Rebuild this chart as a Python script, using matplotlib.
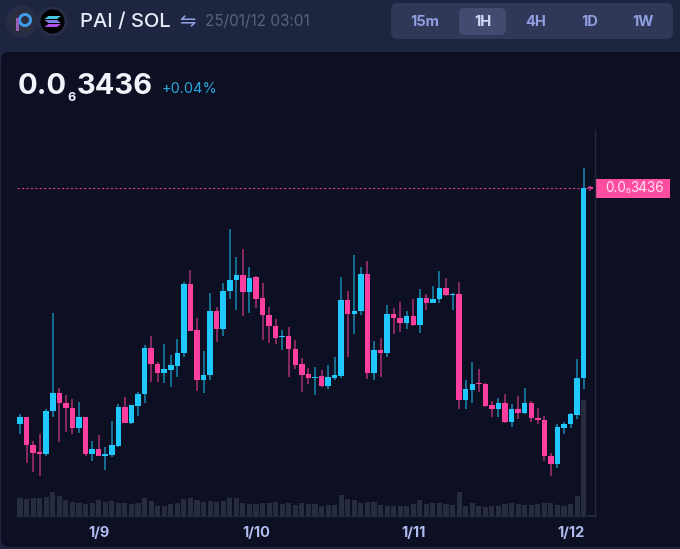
import matplotlib
matplotlib.use("Agg")
import matplotlib.pyplot as plt
from matplotlib.patches import Circle, FancyBboxPatch, Polygon, Rectangle, Wedge
import numpy as np

# candles, in chart units (absolute price scale is not shown)
opens = [125, 132.3, 104.3, 96.7, 95, 137.7, 155.7, 146.3, 141.3, 121, 132.3, 95, 100, 93.3, 94.3, 103, 141.7, 125.7,
         143.3, 154.7, 200.7, 185, 176, 179, 183, 195.7, 264.7, 218.7, 168.7, 173.7, 238.3, 220, 258, 269, 274, 257,
         271.7, 250.7, 234.3, 223.3, 211.7, 213, 200.3, 184.7, 174.7, 170.7, 172.7, 162.7, 171.3, 173, 249, 234.7,
         237.7, 274.7, 176.3, 198.7, 196, 235.3, 231.3, 226.3, 232.7, 224.3, 251.3, 245.7, 250, 260.7, 254, 255, 149,
         159, 165.5, 165.3, 143.7, 140.3, 145.7, 126.7, 140, 135.7, 145.7, 131, 129.3, 93.3, 84.7, 121.3, 124.7, 134.3,
         171, 360.9]
highs = [134.7, 132.3, 108.3, 115, 139.7, 236.3, 160.7, 154, 150, 147, 132.3, 107.7, 114, 101.7, 128.3, 144.7, 152,
         143.7, 156.7, 204, 213, 187.3, 205, 193.7, 209.7, 267, 278.7, 230.7, 198.3, 255.7, 241.7, 265.7, 319.7, 291.7,
         299.7, 282, 273, 265.7, 241.7, 229.7, 219, 222.3, 208.7, 190.7, 180.7, 182, 179, 183.7, 192, 272, 258, 294,
         282.3, 288.3, 208.3, 210.7, 243.7, 240.7, 247, 238.3, 249.7, 259.7, 255, 262.7, 278.3, 270.7, 255.7, 267, 169,
         187, 180, 166.3, 148, 150.7, 155, 144.7, 153.3, 161, 148.3, 141, 132.7, 95.7, 124.7, 127.3, 136.3, 190, 381,
         363]
lows = [115, 85.7, 77.3, 73, 93.3, 132.3, 106.7, 117.3, 115, 116.3, 93.3, 88, 93.3, 79.3, 92.3, 102.3, 126.3, 125,
        133.3, 146, 167, 167, 166, 162, 171.7, 191.7, 217.7, 157.7, 156.3, 169, 207.3, 213, 250.3, 239.3, 233, 236.3,
        241, 209, 206.3, 205, 199, 172.3, 180, 157, 164.7, 154, 162, 159.7, 169, 171, 192.3, 214.7, 234.3, 170.3, 169,
        171.7, 192, 215.3, 217.3, 219.7, 223, 216.3, 239.3, 245.7, 246, 253, 239.3, 140.3, 140.3, 146.3, 156.7, 142,
        131.7, 132.3, 125.7, 122, 130, 135, 127.3, 125, 88.3, 73, 81.3, 114.7, 121.3, 130.3, 160, 358.5]
closes = [132.3, 104, 96.3, 95, 138.3, 155.7, 146, 141, 121, 132, 95, 100, 93.3, 95, 103.7, 141.7, 126.3, 143.7, 155,
          200.7, 184.7, 176, 179.7, 183.7, 196, 264.7, 217.7, 168.7, 174, 238.3, 220.3, 258.3, 269, 274, 257, 271.3,
          250.3, 233.7, 223, 211.3, 212.7, 200, 184, 174, 170.7, 172.3, 162.7, 172, 173.7, 249, 234.7, 238, 274.7,
          176.3, 198.7, 196.3, 235.3, 231, 226.3, 232.7, 224.3, 251.3, 246, 250.3, 260.7, 253.7, 255.3, 149, 159.7,
          165.3, 165, 143, 140.3, 145.7, 126.7, 140, 136, 145.7, 130.7, 129, 93, 85, 121.7, 125, 135, 171.3, 360.7,
          360.7]
volumes = [18, 17, 18, 18, 19, 23.7, 19.7, 16, 14, 13.3, 12, 12.7, 15.7, 13.7, 15, 13.3, 13, 12, 12.7, 18, 14.7, 10,
           9.7, 12, 13.3, 17.3, 17.7, 16, 14, 15, 14.3, 15, 18, 17.7, 12.7, 12.3, 12.3, 13, 13, 14, 12.3, 13, 10.7, 13,
           12, 12.3, 9.7, 10.7, 11.3, 21, 16.7, 16, 13, 14, 14, 11, 10, 9.7, 10, 10, 12, 16, 12.3, 13, 13.3, 12.3, 11,
           24, 10.3, 13.3, 9.7, 9.3, 9.7, 10, 12, 13.3, 12.3, 11.3, 10.7, 12, 13, 13, 11, 10, 12, 20, 116, 1.5]
tick_positions = [12, 36, 60, 84]
tick_labels = ["1/9", "1/10", "1/11", "1/12"]
intervals = ["15m", "1H", "4H", "1D", "1W"]
last_price = closes[-1]

WIDTH, HEIGHT = 680, 549
OUTER = "#1e2540"
PANEL = "#0c1022"
PINK = "#ff3fa0"
BLUE = "#1fc8ff"
GRID = "#23293c"
VOL = "#272d3f"
plt.rcParams["font.family"] = ["Inter", "DejaVu Sans"]

fig = plt.figure(figsize=(WIDTH / 100, HEIGHT / 100), dpi=100, facecolor=OUTER)

# background layer in pixel coordinates
bg = fig.add_axes([0, 0, 1, 1], zorder=0)
bg.set_xlim(0, WIDTH)
bg.set_ylim(HEIGHT, 0)
bg.axis("off")
bg.add_patch(FancyBboxPatch((7, 58), WIDTH, 483, boxstyle="round,pad=6,rounding_size=8", fc=PANEL, ec="none"))

# pair icons
bg.add_patch(Circle((22, 21.5), 16, fc="#272d46", ec="none"))
bg.add_patch(Circle((22, 21.5), 12, fc="#2b2e3e", ec="none"))
bg.add_patch(Wedge((25, 20), 7, 0, 360, width=3, fc="#3f9be8", ec="none"))
bg.add_patch(Rectangle((15.5, 18), 3, 13, fc="#9a5fb8", ec="none"))
bg.add_patch(Circle((52.5, 21.5), 15, fc="#272d46", ec="none"))
bg.add_patch(Circle((52.5, 21.5), 12, fc="#000000", ec="none"))
for top, shade, lean in [(16, "#49c8e8", 2), (20, "#7a7fe8", -2), (24, "#b04fe8", 2)]:
    bg.add_patch(Polygon([(46.5 + lean, top), (59 + lean, top), (59 - lean, top + 3), (46.5 - lean, top + 3)],
                         fc=shade, ec="none"))

# header text
bg.text(80, 22, "PAI / SOL", color="#e8ecf8", fontsize=14.5, fontweight="medium", va="center")
bg.text(187, 22, "⇋", color="#8f9fe0", fontsize=14, va="center", ha="center", family="DejaVu Sans")
bg.text(205, 22, "25/01/12 03:01", color="#5a6280", fontsize=11, va="center")

# interval selector
bg.add_patch(FancyBboxPatch((397, 9), 270, 24, boxstyle="round,pad=6,rounding_size=7", fc="#303858", ec="none"))
bg.add_patch(FancyBboxPatch((464, 13), 37, 17, boxstyle="round,pad=5,rounding_size=6", fc="#434c70", ec="none"))
for name, cx in zip(intervals, [425, 483, 536, 589.5, 643]):
    bg.text(cx, 22, name, color="#d5dcfa" if name == "1H" else "#8f9fe0", fontsize=10.5, fontweight="bold",
            ha="center", va="center")

# big price
bg.text(18, 94, "0.0", color="#f2f4fb", fontsize=21, fontweight="bold", va="baseline")
bg.text(67, 101, "6", color="#f2f4fb", fontsize=9, fontweight="bold", va="baseline")
bg.text(77, 94, "3436", color="#f2f4fb", fontsize=21, fontweight="bold", va="baseline")
bg.text(162, 89, "+0.04%", color="#2aa8d8", fontsize=10.5, va="center")

# price tag
bg.add_patch(Rectangle((594.5, 179), 75.5, 18.7, fc="#ff4da0", ec="none"))
bg.text(605.5, 187.5, "0.0", color="#ffe3f1", fontsize=9.8, va="center")
bg.text(625.3, 191, "6", color="#ffe3f1", fontsize=5.5, va="center")
bg.text(630, 187.5, "3436", color="#ffe3f1", fontsize=9.8, va="center")

# chart area, pixel box of the plot
left, right, top, bottom = 17, 595.3, 130, 516
pos = [left / WIDTH, 1 - bottom / HEIGHT, (right - left) / WIDTH, (bottom - top) / HEIGHT]
step = (583.7 - 20) / 86
xlim = ((left - 20) / step, (right - 20) / step)

ax_vol = fig.add_axes(pos, zorder=1)
ax_vol.patch.set_visible(False)
ax_vol.axis("off")
ax_vol.set_xlim(xlim)
ax_vol.set_ylim(0, bottom - top)
x = np.arange(len(closes))
ax_vol.bar(x, volumes, width=0.78, color=VOL, linewidth=0)

ax = fig.add_axes(pos, zorder=2)
ax.patch.set_visible(False)
ax.set_xlim(xlim)
ax.set_ylim(33, 33 + bottom - top)

opens = np.array(opens)
closes = np.array(closes)
up = closes >= opens
up[-1] = False
colors = np.where(up, BLUE, PINK)
ax.vlines(x, lows, highs, colors=list(colors), linewidth=1.1, alpha=0.65, zorder=2)
heights = np.maximum(np.abs(closes - opens), 1.3)
ax.bar(x, heights, bottom=np.minimum(opens, closes), width=0.84, color=list(colors), linewidth=0, zorder=3)
ax.axhline(last_price, color=PINK, linewidth=0.8, linestyle=(0, (2, 2)), alpha=0.85, zorder=1)

for side in ["top", "left"]:
    ax.spines[side].set_visible(False)
for side in ["bottom", "right"]:
    ax.spines[side].set_color(GRID)
    ax.spines[side].set_linewidth(1)
ax.set_yticks([])
ax.set_xticks(tick_positions)
ax.set_xticklabels(tick_labels, color="#b0bcf0", fontsize=10.5, fontweight="bold")
ax.tick_params(axis="x", length=0, pad=7)

fig.savefig("out.png", dpi=100, facecolor=OUTER)
